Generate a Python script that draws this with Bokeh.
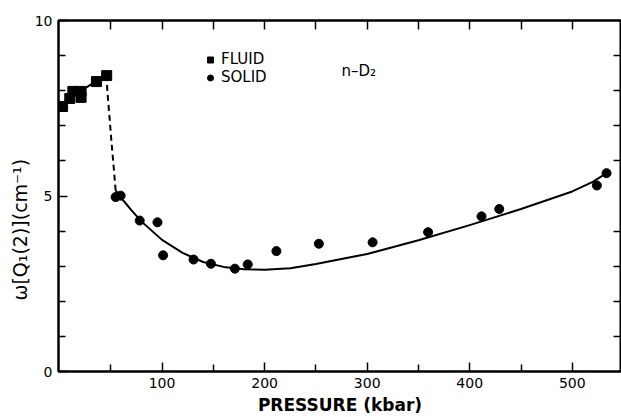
from bokeh.plotting import figure
from bokeh.models import (Range1d, LinearAxis, FixedTicker, Legend, LegendItem,
                          Label, Title)
from bokeh.embed import file_html
from bokeh.resources import INLINE

# ---- data ----
fluid_p = [3, 10, 13, 21, 21, 36, 46]
fluid_w = [7.55, 7.78, 7.98, 7.81, 7.98, 8.26, 8.43]

solid_p = [54.7, 59.6, 78.2, 95.5, 101, 130.7, 147.6, 171, 183.5, 211.5,
           252.9, 305.3, 359.4, 411.5, 428.8, 524, 533.4]
solid_w = [4.97, 5.01, 4.30, 4.25, 3.31, 3.19, 3.07, 2.93, 3.05, 3.43,
           3.64, 3.68, 3.97, 4.42, 4.63, 5.30, 5.65]

fluid_line_p = [0, 10, 20, 36, 46]
fluid_line_w = [7.52, 7.82, 7.98, 8.27, 8.45]

dash_p = [46, 46.6, 48.2, 50.8, 53.1, 54.7]
dash_w = [8.45, 8.0, 7.44, 6.49, 5.73, 5.16]

fit_p = [54.7, 60, 70, 80, 100, 120, 140, 160, 180, 200, 225, 250, 300,
         350, 400, 450, 500, 520, 535]
fit_w = [5.16, 4.95, 4.6, 4.27, 3.75, 3.38, 3.12, 2.98, 2.91, 2.9, 2.94,
         3.06, 3.35, 3.74, 4.17, 4.63, 5.13, 5.4, 5.68]

x_major = [100, 200, 300, 400, 500]
x_minor = [50, 150, 250, 350, 450]
x_all = [50, 100, 150, 200, 250, 300, 350, 400, 450, 500]
y_major = [0, 5, 10]
y_minor = [1, 2, 3, 4, 6, 7, 8, 9]

FONT = "DejaVu Sans"

p = figure(width=621, height=417, x_range=Range1d(-1, 548), y_range=Range1d(0, 10),
           output_backend="svg", toolbar_location=None,
           min_border_left=58, min_border_top=20, min_border_right=0,
           min_border_bottom=46, x_axis_label="PRESSURE (kbar)")
p.grid.visible = False
p.outline_line_color = "black"
p.outline_line_width = 2
p.background_fill_color = "white"
p.border_fill_color = "white"

def style(ax):
    ax.axis_line_width = 2
    ax.axis_line_color = "black"
    ax.major_tick_in = 9
    ax.major_tick_out = 0
    ax.minor_tick_in = 7
    ax.minor_tick_out = 0
    ax.major_tick_line_width = 1.5
    ax.minor_tick_line_width = 1.5
    ax.major_tick_line_color = "black"
    ax.minor_tick_line_color = "black"
    ax.major_label_text_font = FONT
    ax.major_label_text_font_size = "14px"
    ax.major_label_text_color = "black"

xa = p.xaxis[0]
xa.ticker = FixedTicker(ticks=x_major, minor_ticks=x_minor)
style(xa)
xa.axis_label_text_font = FONT
xa.axis_label_text_font_size = "17px"
xa.axis_label_text_font_style = "bold"
xa.axis_label_text_color = "black"
xa.axis_label_standoff = 4
xa.major_label_standoff = 6

ya = p.yaxis[0]
ya.ticker = FixedTicker(ticks=y_major, minor_ticks=y_minor)
style(ya)
ya.major_label_standoff = 6

# top / right axes: ticks only (minor ticks carry no labels)
top = LinearAxis(ticker=FixedTicker(ticks=[], minor_ticks=x_all))
style(top)
top.minor_tick_in = 9
p.add_layout(top, "above")

right = LinearAxis(ticker=FixedTicker(ticks=[], minor_ticks=y_minor))
style(right)
right.minor_tick_in = 8
p.add_layout(right, "right")

# y-axis title, shifted toward the bottom as in the reference
p.add_layout(Title(text="ω[Q₁(2)](cm⁻¹)", align="left", offset=71,
                   text_font=FONT, text_font_size="19px",
                   text_font_style="normal", text_color="black",
                   standoff=2), "left")

# ---- lines ----
p.line(fluid_line_p, fluid_line_w, line_color="black", line_width=2)
p.line(dash_p, dash_w, line_color="black", line_width=2, line_dash="6 4")
p.line(fit_p, fit_w, line_color="black", line_width=2, line_join="round")

# ---- points ----
r_fluid = p.scatter(fluid_p, fluid_w, marker="square", size=10,
                    fill_color="black", line_color="black")
r_solid = p.scatter(solid_p, solid_w, marker="circle", size=9,
                    fill_color="black", line_color="black")

legend = Legend(items=[LegendItem(label="FLUID", renderers=[r_fluid]),
                       LegendItem(label="SOLID", renderers=[r_solid])],
                location=(143, 285), padding=0, spacing=0, margin=0,
                border_line_color=None, background_fill_alpha=0,
                label_text_font=FONT, label_text_font_size="15px",
                label_text_color="black",
                label_standoff=2, glyph_width=18, glyph_height=15,
                label_height=15)
p.add_layout(legend)

p.add_layout(Label(x=275, y=8.56, text="n–D₂", text_font=FONT,
                   text_font_size="15px", text_baseline="middle",
                   text_align="left", text_color="black"))

open("out.html", "w").write(file_html(p, INLINE))
